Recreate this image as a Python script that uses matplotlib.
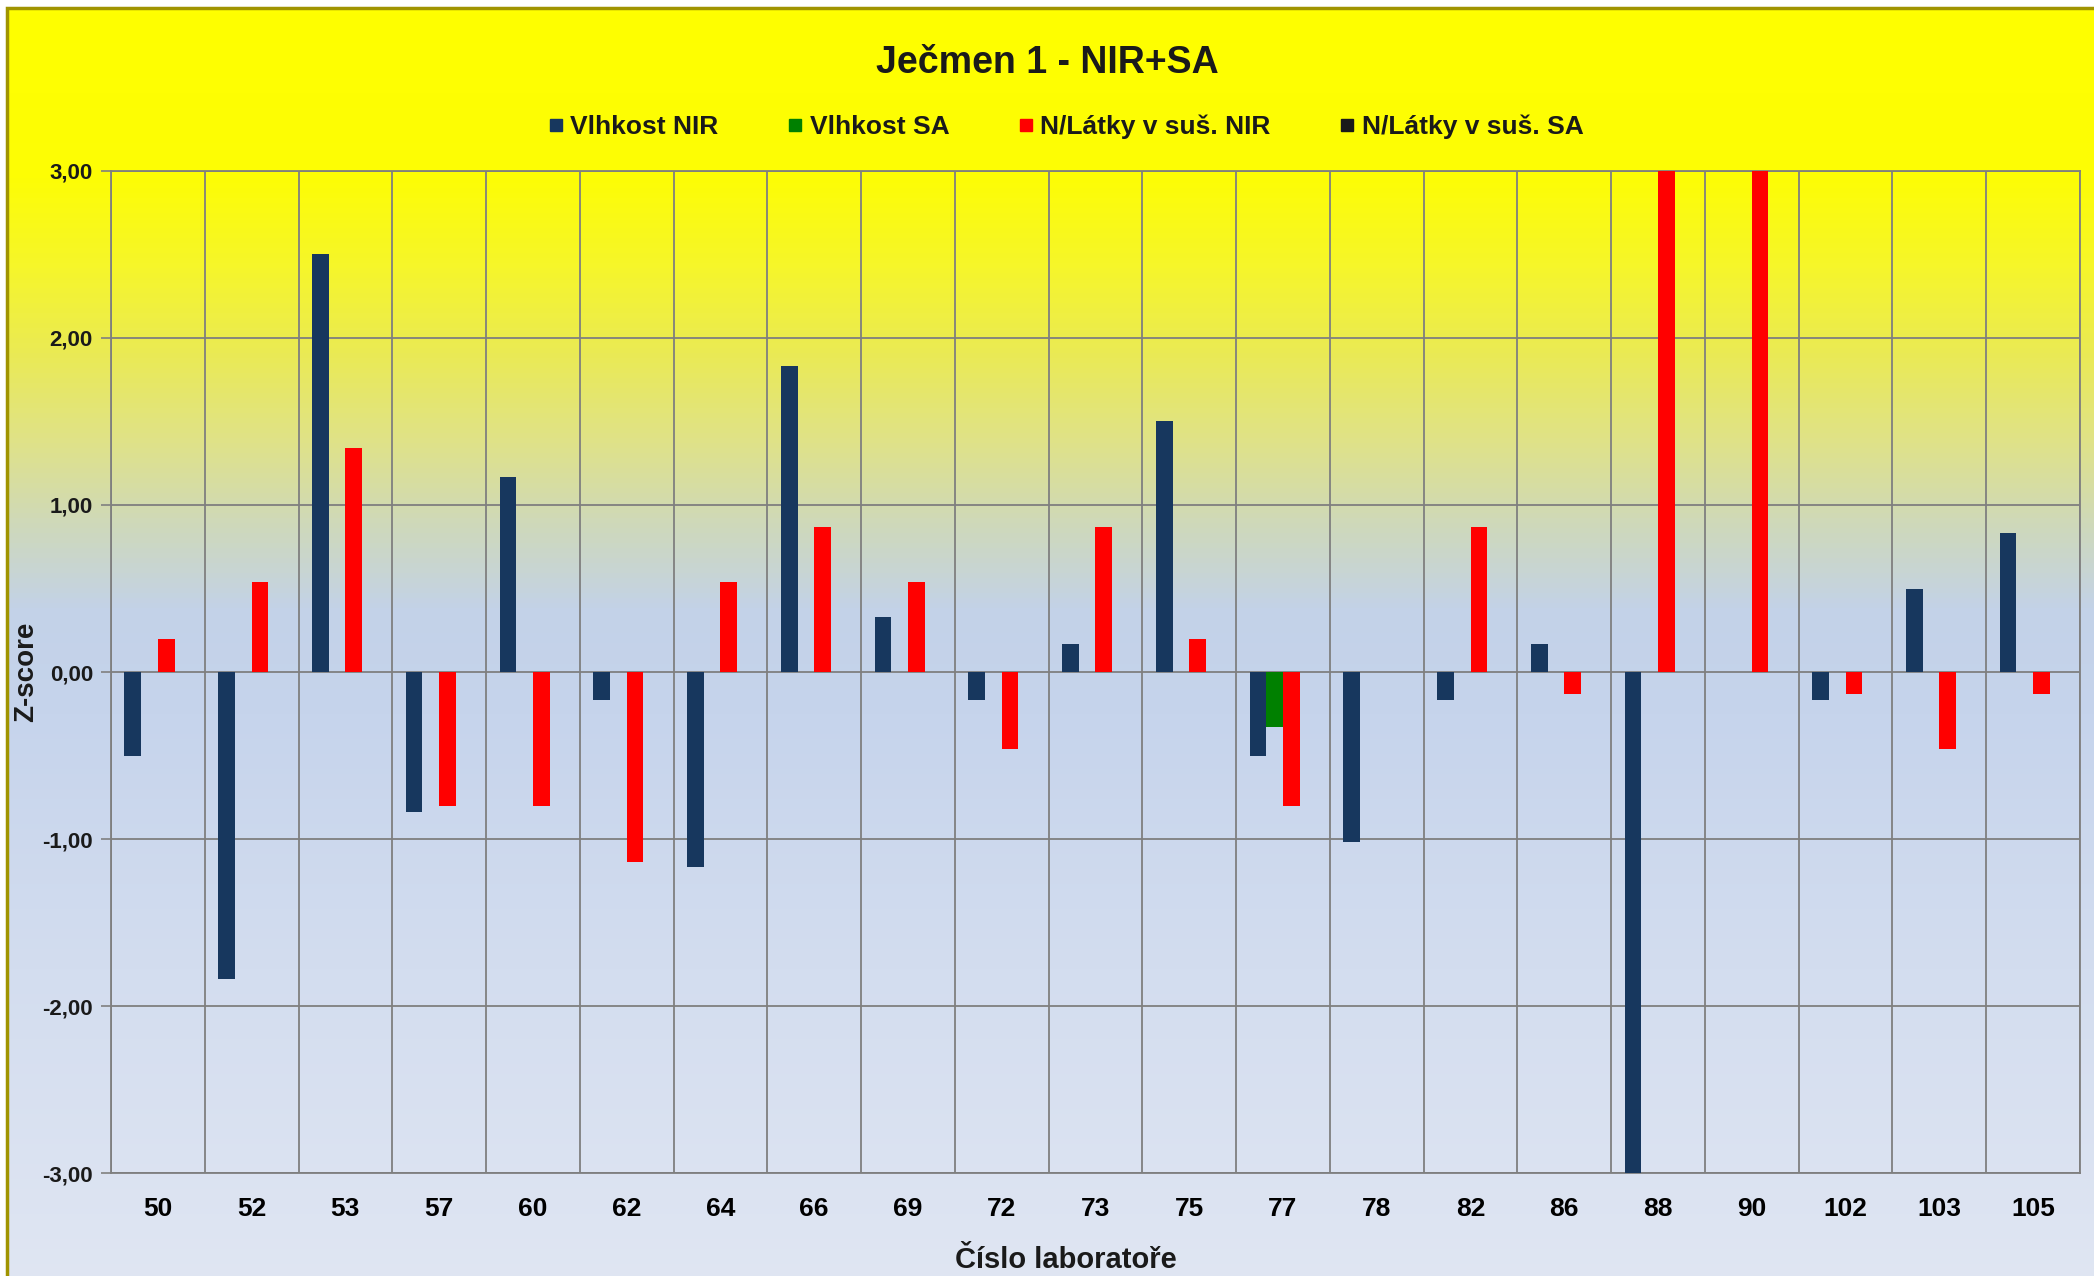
import numpy as np
import matplotlib
matplotlib.use("Agg")
import matplotlib.pyplot as plt
from matplotlib.colors import LinearSegmentedColormap
from matplotlib.lines import Line2D
from matplotlib.patches import Rectangle
from matplotlib.ticker import FixedLocator, FuncFormatter

labs = ["50", "52", "53", "57", "60", "62", "64", "66", "69", "72", "73",
        "75", "77", "78", "82", "86", "88", "90", "102", "103", "105"]
vlhkost_nir = [-0.50, -1.84, 2.50, -0.84, 1.17, -0.17, -1.17, 1.83, 0.33, -0.17, 0.17,
               1.50, -0.50, -1.02, -0.17, 0.17, -3.50, np.nan, -0.17, 0.50, 0.83]
vlhkost_sa = [np.nan] * 12 + [-0.33] + [np.nan] * 8
n_latky_nir = [0.20, 0.54, 1.34, -0.80, -0.80, -1.14, 0.54, 0.87, 0.54, -0.46, 0.87,
               0.20, -0.80, np.nan, 0.87, -0.13, 3.50, 3.50, -0.13, -0.46, -0.13]
n_latky_sa = [np.nan] * 21

series = ["Vlhkost NIR", "Vlhkost SA", "N/Látky v suš. NIR", "N/Látky v suš. SA"]
colours = ["#17375e", "#008000", "#ff0000", "#1a1a1a"]

narrow = ["Liberation Sans Narrow", "Liberation Sans", "DejaVu Sans"]
normal = ["Liberation Sans", "DejaVu Sans"]

fig = plt.figure(figsize=(20.94, 12.76), dpi=100)
fig.patch.set_facecolor("white")

# background gradient over the whole chart area
bg = fig.add_axes([0.0034, -0.01, 1.0, 1.0037], zorder=-10)
cmap = LinearSegmentedColormap.from_list("bg", [
    (0.00, "#ffff00"), (0.13, "#fdfd05"), (0.20, "#f6f62a"), (0.27, "#eaea55"),
    (0.34, "#dfe28a"), (0.40, "#cfd9b8"), (0.47, "#c3d2e8"), (0.55, "#c6d4ec"),
    (0.75, "#d3ddef"), (1.00, "#e0e6f3")])
bg.imshow(np.linspace(0, 1, 256).reshape(-1, 1), aspect="auto", cmap=cmap,
          extent=[0, 1, 0, 1], origin="upper")
bg.set_xlim(0, 1)
bg.set_ylim(0, 1)
bg.axis("off")
bg.add_patch(Rectangle((0, -0.1), 1.2, 1.1, fill=False, edgecolor="#a09400",
                       linewidth=2.5, transform=bg.transAxes, clip_on=False))

ax = fig.add_axes([0.053, 0.0807, 0.9403, 0.7853])
ax.set_facecolor("none")

x = np.arange(len(labs))
w = 0.178
data = [vlhkost_nir, vlhkost_sa, n_latky_nir, n_latky_sa]
for i, (vals, c) in enumerate(zip(data, colours)):
    ax.bar(x + (i - 1.5) * w, vals, width=w, color=c, zorder=3)

ax.set_xlim(-0.5, len(labs) - 0.5)
ax.set_ylim(-3, 3)

ax.set_yticks(np.arange(-3, 4, 1))
ax.yaxis.set_major_formatter(FuncFormatter(lambda v, p: f"{v:.2f}".replace(".", ",")))
ax.xaxis.set_major_locator(FixedLocator(x))
ax.set_xticklabels(labs, family=narrow, fontsize=19, fontweight="bold")
ax.xaxis.set_minor_locator(FixedLocator(np.arange(-0.5, len(labs), 1)))
ax.tick_params(axis="x", which="both", length=0, pad=17)
ax.tick_params(axis="y", length=7, color="#808080", width=1.2, pad=6)
for lbl in ax.get_yticklabels():
    lbl.set_family(normal)
    lbl.set_fontsize(16)
    lbl.set_fontweight("bold")
    lbl.set_color("#1a1a1a")

ax.grid(True, axis="y", which="major", color="#7f7f7f", linewidth=1.3, zorder=1)
ax.grid(True, axis="x", which="minor", color="#7f7f7f", linewidth=1.3, zorder=1)
for s in ax.spines.values():
    s.set_color("#7f7f7f")
    s.set_linewidth(1.3)

ax.set_xlabel("Číslo laboratoře", family=normal, fontsize=21, fontweight="bold",
              color="#1a1a1a")
ax.xaxis.set_label_coords(0.485, -0.073)
ax.set_ylabel("Z-score", family=normal, fontsize=20, fontweight="bold",
              color="#1a1a1a")
ax.yaxis.set_label_coords(-0.0366, 0.5)

fig.text(0.5, 0.951, "Ječmen 1 - NIR+SA", ha="center", va="center", family=narrow,
         fontsize=27, fontweight="bold", color="#1a1a1a")

handles = [Line2D([], [], linestyle="none", marker="s", markersize=9,
                  markerfacecolor=c, markeredgecolor=c) for c in colours]
leg = fig.legend(handles, series, loc="center", bbox_to_anchor=(0.509, 0.9005),
                 ncol=4, frameon=False, handlelength=0.6, handletextpad=0.25,
                 columnspacing=2.6, prop={"family": narrow, "size": 19, "weight": "bold"})
for t in leg.get_texts():
    t.set_color("#1a1a1a")

fig.savefig("out.png", dpi=100)
